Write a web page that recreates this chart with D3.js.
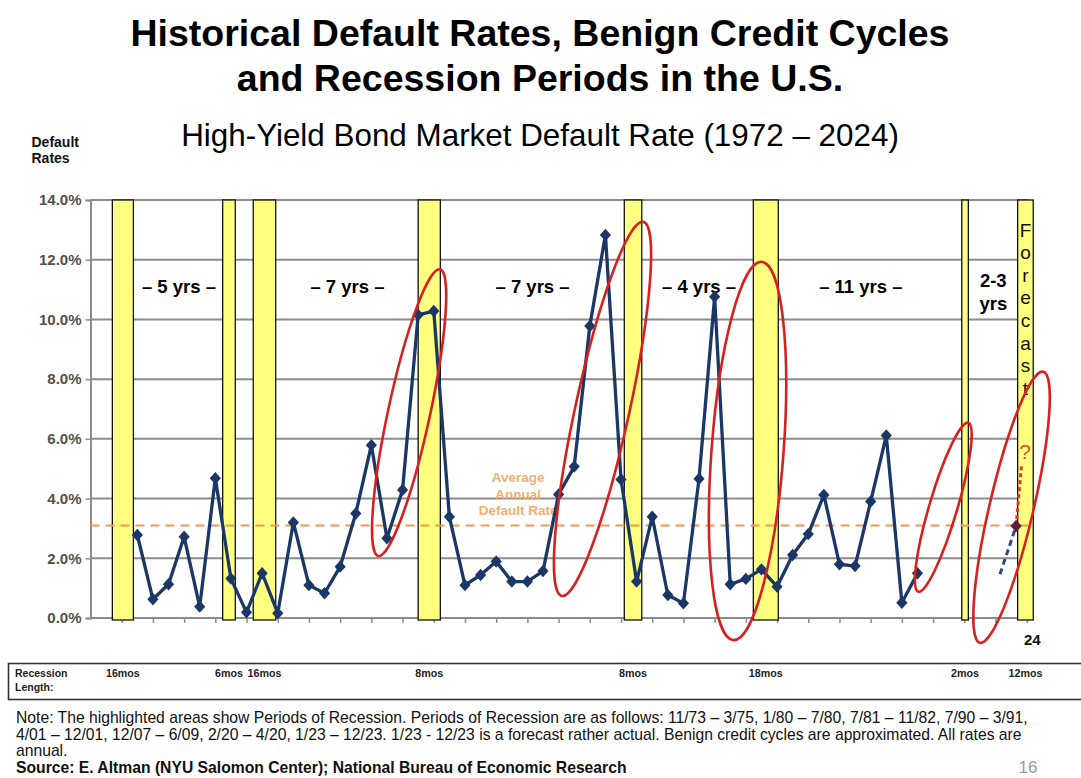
<!DOCTYPE html>
<html><head><meta charset="utf-8">
<script src="https://cdn.jsdelivr.net/npm/d3@7"></script>
<style>
html,body{margin:0;padding:0;background:#fff;}
svg{display:block;font-family:"Liberation Sans",Arial,Helvetica,sans-serif;}
</style>
</head><body>
<svg id="c" width="1081" height="778"></svg>
<script>
// ---------------- DATA ----------------
const years = [1972,1973,1974,1975,1976,1977,1978,1979,1980,1981,1982,1983,1984,1985,1986,
  1987,1988,1989,1990,1991,1992,1993,1994,1995,1996,1997,1998,1999,2000,2001,2002,2003,2004,
  2005,2006,2007,2008,2009,2010,2011,2012,2013,2014,2015,2016,2017,2018,2019,2020,2021,2022];
const rates = [2.78,0.63,1.13,2.72,0.38,4.68,1.32,0.19,1.50,0.16,3.20,1.10,0.83,1.72,3.50,
  5.79,2.67,4.29,10.15,10.28,3.39,1.10,1.44,1.89,1.22,1.22,1.57,4.14,5.07,9.78,12.83,4.64,1.22,
  3.39,0.77,0.49,4.66,10.76,1.13,1.31,1.63,1.05,2.11,2.81,4.12,1.80,1.74,3.90,6.11,0.51,1.50];
const yTicks = [0,2,4,6,8,10,12,14];
const yTickLabels = ["0.0%","2.0%","4.0%","6.0%","8.0%","10.0%","12.0%","14.0%"];
const xTickSlots = [1971,1973,1975,1977,1979,1981,1983,1985,1987,1989,1991,1993,1995,1997,1999,
  2001,2003,2005,2007,2009,2011,2013,2015,2017,2019,2021,2023,2025,2027,2029];
const averageRate = 3.1;
const averageLabel = ["Average","Annual","Default Rate"];
const averageLabelSlot = 1996.4, averageLabelRate = 4.14;
// recession periods: drawn span on the chart's axis
const recessionPeriods = ["11/73 – 3/75","1/80 – 7/80","7/81 – 11/82","7/90 – 3/91","4/01 – 12/01","12/07 – 6/09","2/20 – 4/20","1/23 – 12/23"];
const recessionLengths = ["16mos","6mos","16mos","8mos","8mos","18mos","2mos","12mos"];
const recessionStart = [1970.40,1977.47,1979.43,1990.00,2003.21,2011.48,2024.84,2028.42];
const recessionEnd   = [1971.75,1978.28,1980.87,1991.42,2004.33,2013.08,2025.26,2029.42];
const cycleLabels = ["– 5 yrs –","– 7 yrs –","– 7 yrs –","– 4 yrs –","– 11 yrs –"];
const cycleSlots  = [1974.67,1985.47,1997.33,2008.0,2018.37];
const cycleRate = 11.1;
const shortCycle = {lines:["2-3","yrs"], slot:2026.86, rates:[11.32,10.52]};
const forecastWord = "Forecast";
const forecastLabel = "24";
const forecastFrom  = {slot:2027.29, rate:1.47};
const forecastPoint = {slot:2028.32, rate:3.08};
const forecastTail  = {slot:2028.68, rate:5.18};
const forecastQ     = {slot:2028.89, rate:5.57};
// ellipses: tips (top & bottom) in axis units
const ellipseTop    = [[1991.40,11.68],[2004.43,13.27],[2012.02,11.93],[2025.26,6.54],[2030.06,8.25]];
const ellipseBottom = [[1987.44,2.08],[1999.20,0.74],[2010.20,-0.74],[2022.05,0.88],[2026.00,-0.83]];
const ellipseHalfWidth = [21,27,36,14,22];
const titleLines = ["Historical Default Rates, Benign Credit Cycles","and Recession Periods in the U.S."];
const subtitle = "High-Yield Bond Market Default Rate (1972 – 2024)";
const yAxisTitle = ["Default","Rates"];
const recessionBoxLabel = ["Recession","Length:"];
const noteLines = [
  "Note: The highlighted areas show Periods of Recession. Periods of Recession are as follows: 11/73 – 3/75, 1/80 – 7/80, 7/81 – 11/82, 7/90 – 3/91,",
  "4/01 – 12/01, 12/07 – 6/09, 2/20 – 4/20, 1/23 – 12/23. 1/23 - 12/23 is a forecast rather actual. Benign credit cycles are approximated. All rates are",
  "annual."];
const sourceLine = "Source: E. Altman (NYU Salomon Center); National Bureau of Economic Research";
const pageNumber = "16";

// ---------------- DRAW ----------------
const svg = d3.select("#c");
svg.append("rect").attr("width",1081).attr("height",778).attr("fill","#fff");

const x = d3.scaleLinear().domain([1969, 2029]).range([90.5, 1026.7]);
const y = d3.scaleLinear().domain([0, 14]).range([618, 200]);
const xRight = x(2029.1);

// titles
const T = svg.append("g");
titleLines.forEach((t,i)=>{
  T.append("text").attr("x",540).attr("y",46+i*45).attr("text-anchor","middle")
   .attr("font-size",37.5).attr("font-weight","bold").attr("fill","#000").text(t);
});
T.append("text").attr("x",540).attr("y",146).attr("text-anchor","middle")
  .attr("font-size",31.4).attr("fill","#000").text(subtitle);
yAxisTitle.forEach((t,i)=>{
  T.append("text").attr("x",31.5).attr("y",146.5+i*16).attr("font-size",14)
   .attr("font-weight","bold").attr("fill","#111").text(t);
});

// gridlines
svg.append("g").selectAll("line").data(yTicks).join("line")
  .attr("x1",x(1969)).attr("x2",xRight)
  .attr("y1",d=>y(d)).attr("y2",d=>y(d))
  .attr("stroke","#8c8c8c").attr("stroke-width",2);

// y axis
const yAxis = svg.append("g").attr("transform",`translate(${x(1969)},0)`)
  .call(d3.axisLeft(y).tickValues(yTicks).tickSize(5).tickPadding(4)
        .tickFormat((d,i)=>yTickLabels[i]));
yAxis.select(".domain").attr("stroke","#8c8c8c").attr("stroke-width",2);
yAxis.selectAll(".tick line").attr("stroke","#8c8c8c").attr("stroke-width",1.5);
yAxis.selectAll(".tick text").attr("font-size",15).attr("font-weight","bold")
  .attr("fill","#505050").attr("font-family","Liberation Sans, Arial, sans-serif");

// x axis ticks
const xAxis = svg.append("g").attr("transform",`translate(0,${y(0)})`)
  .call(d3.axisBottom(x).tickValues(xTickSlots).tickSize(5).tickFormat(""));
xAxis.select(".domain").remove();
xAxis.selectAll(".tick line").attr("stroke","#8c8c8c").attr("stroke-width",1.5);

// recession bars
const rec = recessionPeriods.map((p,i)=>({period:p,len:recessionLengths[i],s:recessionStart[i],e:recessionEnd[i]}));
svg.append("g").selectAll("rect").data(rec).join("rect")
  .attr("x",d=>x(d.s)).attr("width",d=>x(d.e)-x(d.s))
  .attr("y",y(14)).attr("height",y(0)-y(14)+2)
  .attr("fill","#ffff80").attr("stroke","#111").attr("stroke-width",1.3);

// average line
svg.append("line").attr("x1",x(1969)).attr("x2",xRight)
  .attr("y1",y(averageRate)).attr("y2",y(averageRate))
  .attr("stroke","#f29a4a").attr("stroke-width",2).attr("stroke-dasharray","9,6");
const avgG = svg.append("g");
averageLabel.forEach((t,i)=>{
  avgG.append("text").attr("x",x(averageLabelSlot)).attr("y",y(averageLabelRate)+(i-1)*16.5)
   .attr("text-anchor","middle").attr("dominant-baseline","central")
   .attr("font-size",13.5).attr("font-weight","bold").attr("fill","#f0a860").attr("opacity",0.9).text(t);
});

// cycle labels
svg.append("g").selectAll("text").data(cycleLabels).join("text")
  .attr("x",(d,i)=>x(cycleSlots[i])).attr("y",y(cycleRate))
  .attr("text-anchor","middle").attr("dominant-baseline","central")
  .attr("font-size",18.5).attr("font-weight","bold").attr("fill","#000").text(d=>d);
shortCycle.lines.forEach((t,i)=>{
  svg.append("text").attr("x",x(shortCycle.slot)).attr("y",y(shortCycle.rates[i]))
   .attr("text-anchor","middle").attr("dominant-baseline","central")
   .attr("font-size",18.5).attr("font-weight","bold").attr("fill","#000").text(t);
});

// "Forecast" vertical
const fb = rec[rec.length-1];
forecastWord.split("").forEach((ch,i)=>{
  svg.append("text").attr("x",(x(fb.s)+x(fb.e))/2).attr("y",y(14)+30+i*22.6)
    .attr("text-anchor","middle").attr("dominant-baseline","central")
    .attr("font-size",19).attr("fill","#111").text(ch);
});

// data line
const pts = years.map((yr,i)=>({yr,v:rates[i]}));
const navy = "#1b3768";
svg.append("path").datum(pts)
  .attr("d",d3.line().x(d=>x(d.yr)).y(d=>y(d.v)))
  .attr("fill","none").attr("stroke",navy).attr("stroke-width",3.3).attr("stroke-linejoin","round");
const diamond = "M0,-6.2L5.6,0L0,6.2L-5.6,0Z";
svg.append("g").selectAll("path").data(pts).join("path")
  .attr("d",diamond).attr("transform",d=>`translate(${x(d.yr)},${y(d.v)})`).attr("fill",navy);

// forecast
svg.append("line").attr("x1",x(forecastFrom.slot)).attr("y1",y(forecastFrom.rate))
  .attr("x2",x(forecastPoint.slot)).attr("y2",y(forecastPoint.rate))
  .attr("stroke","#2a4a80").attr("stroke-width",3).attr("stroke-dasharray","6,4");
svg.append("line").attr("x1",x(forecastPoint.slot)).attr("y1",y(forecastPoint.rate))
  .attr("x2",x(forecastTail.slot)).attr("y2",y(forecastTail.rate))
  .attr("stroke","#e03a2a").attr("stroke-width",3).attr("stroke-dasharray","4,3");
svg.append("path").attr("d",diamond)
  .attr("transform",`translate(${x(forecastPoint.slot)},${y(forecastPoint.rate)})`).attr("fill","#5a1e3a");
svg.append("text").attr("x",x(forecastQ.slot)).attr("y",y(forecastQ.rate))
  .attr("text-anchor","middle").attr("dominant-baseline","central")
  .attr("font-size",21).attr("fill","#e0502a").text("?");

// ellipses
ellipseTop.forEach((t,i)=>{
  const b = ellipseBottom[i];
  const x1 = x(t[0]), y1 = y(t[1]), x2 = x(b[0]), y2 = y(b[1]);
  const cx = (x1+x2)/2, cy = (y1+y2)/2;
  const a = Math.hypot(x1-x2, y1-y2)/2;
  const ang = Math.atan2(x1-x2, y2-y1)*180/Math.PI;
  svg.append("ellipse").attr("cx",cx).attr("cy",cy).attr("rx",ellipseHalfWidth[i]).attr("ry",a)
    .attr("transform",`rotate(${ang},${cx},${cy})`)
    .attr("fill","none").attr("stroke","#d8201e").attr("stroke-width",2.6);
});

// forecast year label
svg.append("text").attr("x",x(fb.e)-1).attr("y",y(0)+27).attr("text-anchor","middle")
  .attr("font-size",15).attr("font-weight","bold").attr("fill","#111").text(forecastLabel);

// recession length box
svg.append("rect").attr("x",8.5).attr("y",663.5).attr("width",1090).attr("height",36)
  .attr("fill","none").attr("stroke","#333").attr("stroke-width",1.6);
recessionBoxLabel.forEach((t,i)=>{
  svg.append("text").attr("x",15).attr("y",677+i*13.5).attr("font-size",10.5)
    .attr("font-weight","bold").attr("fill","#222").text(t);
});
svg.append("g").selectAll("text").data(rec).join("text")
  .attr("x",d=>(x(d.s)+x(d.e))/2).attr("y",677).attr("text-anchor","middle")
  .attr("font-size",10.7).attr("font-weight","bold").attr("fill","#222").text(d=>d.len);

// notes (font size fitted so the first line spans the reference width)
const probe = svg.append("text").attr("font-size",14).text(noteLines[0]);
const w14 = probe.node().getComputedTextLength();
probe.remove();
const noteSize = 14 * 1013 / w14;
noteLines.forEach((t,i)=>{
  svg.append("text").attr("x",16).attr("y",723+i*16.5).attr("font-size",noteSize).attr("fill","#111").text(t);
});
svg.append("text").attr("x",16).attr("y",772.5).attr("font-size",noteSize).attr("font-weight","bold")
  .attr("fill","#111").text(sourceLine);
svg.append("text").attr("x",1028).attr("y",773).attr("text-anchor","middle")
  .attr("font-size",17).attr("fill","#9a9a9a").text(pageNumber);
</script>
</body></html>
